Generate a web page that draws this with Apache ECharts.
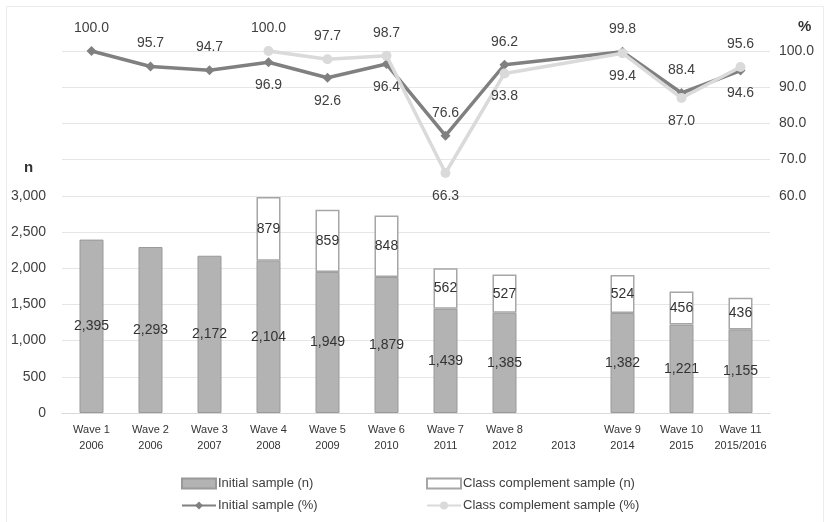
<!DOCTYPE html>
<html>
<head>
<meta charset="utf-8">
<script src="https://cdn.jsdelivr.net/npm/echarts@6/dist/echarts.min.js"></script>
<style>
  html, body { margin: 0; padding: 0; background: #fff; }
  #main { width: 825px; height: 522px; }
</style>
</head>
<body>
<div id="main"></div>
<script>
// categories (wave / year)
var waves = ['Wave 1', 'Wave 2', 'Wave 3', 'Wave 4', 'Wave 5', 'Wave 6', 'Wave 7', 'Wave 8', '', 'Wave 9', 'Wave 10', 'Wave 11'];
var years = ['2006', '2006', '2007', '2008', '2009', '2010', '2011', '2012', '2013', '2014', '2015', '2015/2016'];

// sample sizes (n)
var initialN = [2395, 2293, 2172, 2104, 1949, 1879, 1439, 1385, null, 1382, 1221, 1155];
var complementN = [null, null, null, 879, 859, 848, 562, 527, null, 524, 456, 436];

// response rates (%)
var initialPct = [100.0, 95.7, 94.7, 96.9, 92.6, 96.4, 76.6, 96.2, null, 99.8, 88.4, 94.6];
var complementPct = [null, null, null, 100.0, 97.7, 98.7, 66.3, 93.8, null, 99.4, 87.0, 95.6];

// where each % label sits (style only)
var initialLabelPos = ['top', 'top', 'top', 'bottom', 'bottom', 'bottom', 'top', 'top', 'top', 'top', 'top', 'bottom'];
var complementLabelPos = ['top', 'top', 'top', 'top', 'top', 'top', 'bottom', 'bottom', 'top', 'bottom', 'bottom', 'top'];

var categories = waves.map(function (w, i) {
    return (w || ' ') + '\n' + years[i];
});

function withPos(values, pos) {
    return values.map(function (v, i) {
        return { value: v, label: { position: pos[i] } };
    });
}

var textColor = '#404040';
var fmtN = function (p) {
    return p.value == null ? '' : Number(p.value).toLocaleString('en-US');
};
var fmtPct = function (p) {
    return p.value == null ? '' : p.value.toFixed(1);
};
var legendText = { fontSize: 13, color: textColor, padding: [0, 0, 0, -3] };

var chart = echarts.init(document.getElementById('main'));
var option = {
    backgroundColor: '#fff',
    animation: false,
    textStyle: { fontFamily: 'Liberation Sans, Arial, sans-serif' },
    graphic: [
        {
            type: 'rect',
            shape: { x: 6.5, y: 6.5, width: 817, height: 530 },
            style: { fill: 'none', stroke: '#ececec', lineWidth: 1 }
        },
        {
            type: 'text', left: 24, top: 160,
            style: { text: 'n', font: 'bold 15px Liberation Sans, Arial', fill: '#333' }
        },
        {
            type: 'text', left: 798, top: 19,
            style: { text: '%', font: 'bold 15px Liberation Sans, Arial', fill: '#333' }
        }
    ],
    legend: [
        {
            data: [{ name: 'Initial sample (n)', icon: 'rect' }], left: 176, top: 472,
            itemWidth: 34, itemHeight: 10, textStyle: legendText
        },
        {
            data: [{ name: 'Class complement sample (n)', icon: 'rect' }], left: 421, top: 472,
            itemWidth: 34, itemHeight: 10, textStyle: legendText
        },
        {
            data: ['Initial sample (%)'], left: 176, top: 494,
            itemWidth: 34, itemHeight: 10, textStyle: legendText
        },
        {
            data: ['Class complement sample (%)'], left: 421, top: 494,
            itemWidth: 34, itemHeight: 10, textStyle: legendText
        }
    ],
    grid: { left: 62, right: 55, top: 51, bottom: 109 },
    xAxis: {
        type: 'category',
        data: categories,
        axisTick: { show: false },
        axisLine: { lineStyle: { color: '#d9d9d9' } },
        axisLabel: {
            interval: 0,
            color: '#333',
            fontSize: 11,
            lineHeight: 16,
            margin: 9,
            fontFamily: 'Liberation Sans Narrow, Liberation Sans, Arial'
        }
    },
    yAxis: [
        {
            type: 'value', min: 0, max: 5000, interval: 500,
            axisLine: { show: false }, axisTick: { show: false },
            splitLine: { lineStyle: { color: '#e6e6e6' } },
            axisLabel: {
                color: textColor, fontSize: 14, margin: 16,
                formatter: function (v) { return v > 3000 ? '' : v.toLocaleString('en-US'); }
            }
        },
        {
            type: 'value', min: 0, max: 100, interval: 10,
            axisLine: { show: false }, axisTick: { show: false },
            splitLine: { show: false },
            axisLabel: {
                color: textColor, fontSize: 14, margin: 9,
                formatter: function (v) { return v < 60 ? '' : v.toFixed(1); }
            }
        }
    ],
    series: [
        {
            name: 'Initial sample (n)',
            type: 'bar', stack: 'n', barWidth: 24,
            data: initialN,
            itemStyle: { color: '#b3b3b3', borderColor: '#999', borderWidth: 1 },
            label: { show: true, position: 'inside', color: '#333', fontSize: 14, formatter: fmtN }
        },
        {
            name: 'Class complement sample (n)',
            type: 'bar', stack: 'n', barWidth: 24,
            data: complementN,
            itemStyle: { color: '#ffffff', borderColor: '#a6a6a6', borderWidth: 1.5 },
            label: { show: true, position: 'inside', color: '#333', fontSize: 14, formatter: fmtN }
        },
        {
            name: 'Initial sample (%)',
            type: 'line', yAxisIndex: 1, connectNulls: true,
            data: withPos(initialPct, initialLabelPos),
            symbol: 'diamond', symbolSize: 10,
            lineStyle: { color: '#808080', width: 3.5 },
            itemStyle: { color: '#808080' },
            label: { show: true, color: textColor, fontSize: 14, distance: 11, formatter: fmtPct },
            z: 3
        },
        {
            name: 'Class complement sample (%)',
            type: 'line', yAxisIndex: 1, connectNulls: true,
            data: withPos(complementPct, complementLabelPos),
            symbol: 'circle', symbolSize: 10,
            lineStyle: { color: '#dadada', width: 3.5 },
            itemStyle: { color: '#dadada' },
            label: { show: true, color: textColor, fontSize: 14, distance: 11, formatter: fmtPct },
            z: 4
        }
    ]
};
chart.setOption(option);
window.addEventListener('resize', function () {
    chart.resize();
});
</script>
</body>
</html>
